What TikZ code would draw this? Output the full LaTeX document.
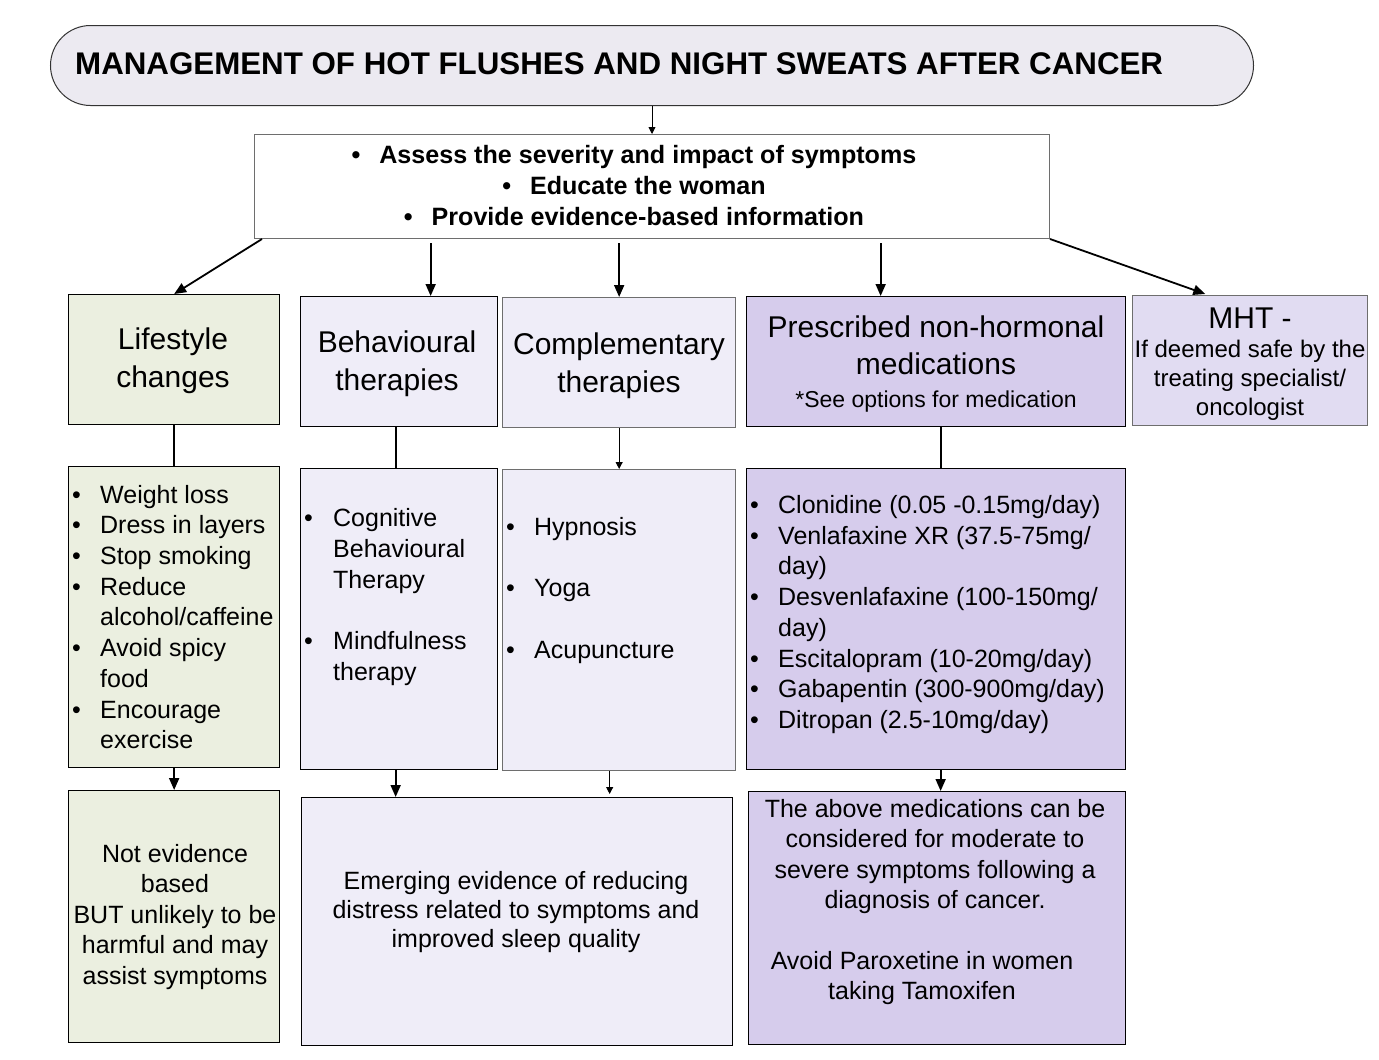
\documentclass[tikz,border=0pt]{standalone}
\usepackage{fontspec}
\setmainfont{Liberation Sans}
\usetikzlibrary{arrows.meta,calc}
\definecolor{titlefill}{RGB}{236,234,241}
\definecolor{greenfill}{RGB}{235,239,224}
\definecolor{lavfill}{RGB}{239,237,248}
\definecolor{purpfill}{RGB}{214,204,236}
\definecolor{mhtfill}{RGB}{225,220,242}
\definecolor{greyline}{RGB}{110,110,110}
\newcommand\bul{\makebox[28pt][l]{•}}
\newcommand\ind{\hspace*{28pt}}
\begin{document}
\begin{tikzpicture}[x=1pt,y=-1pt,
  box/.style={draw=black,line width=1.3pt,inner sep=0pt,anchor=north west},
  gbox/.style={box,draw=greyline},
  big/.style={inner sep=0pt,align=center,font=\fontsize{30}{38}\selectfont},
  mid/.style={inner sep=0pt,align=center,font=\fontsize{25}{30.5}\selectfont},
  lst/.style={inner sep=0pt,align=left,anchor=west,font=\fontsize{25}{30.7}\selectfont},
  arr/.style={line width=1.8pt,-{Triangle[length=12pt,width=10pt]}},
  tarr/.style={line width=0.9pt,-{Triangle[length=7pt,width=7pt]}},
  conn/.style={line width=1.8pt}]
\useasboundingbox (0,0) rectangle (1379,1060);

% title
\node[draw=black!80,line width=1pt,fill=titlefill,rounded corners=40pt,inner sep=0pt,
      minimum width=1203pt,minimum height=80pt,anchor=north west] (title) at (50,25) {};
\node[inner sep=0pt,anchor=west,font=\fontsize{31.3}{36}\selectfont\bfseries] (titletxt) at (75,64)
  {MANAGEMENT OF HOT FLUSHES AND NIGHT SWEATS AFTER CANCER};

% assess box
\node[gbox,fill=white,line width=1pt,minimum width=795pt,minimum height=104pt] (assess) at (254,134) {};
\node[inner sep=0pt,align=center,font=\fontsize{25.1}{31}\selectfont\bfseries] (assesstxt) at (634,186)
  {•\hspace{19pt}Assess the severity and impact of symptoms\\
   •\hspace{19pt}Educate the woman\\
   •\hspace{19pt}Provide evidence-based information};

% row 1
\node[box,fill=greenfill,minimum width=211pt,minimum height=130pt] (life) at (68,294) {};
\node[big] (lifetxt) at (173,361) {Lifestyle\\changes};
\node[box,fill=lavfill,minimum width=197pt,minimum height=130pt] (behav) at (300,296) {};
\node[big] (behavtxt) at (397,363.5) {Behavioural\\therapies};
\node[gbox,fill=lavfill,minimum width=233pt,minimum height=130pt] (comp) at (502,297) {};
\node[big] (comptxt) at (619,366) {Complementary\\therapies};
\node[box,fill=purpfill,minimum width=379pt,minimum height=130pt] (presc) at (746,296) {};
\node[inner sep=0pt,align=center,font=\fontsize{23}{33}\selectfont] (presctxt) at (936,364)
  {{\fontsize{30}{36}\selectfont Prescribed non-hormonal}\\[4pt]
   {\fontsize{30}{36}\selectfont medications}\\
   *See options for medication};
\node[gbox,fill=mhtfill,minimum width=235pt,minimum height=130pt] (mht) at (1132,295) {};
\node[inner sep=0pt,align=center,font=\fontsize{24}{29}\selectfont] (mhttxt) at (1250,364)
  {{\fontsize{30}{36}\selectfont MHT -}\\
   If deemed safe by the\\
   treating specialist/\\
   oncologist};

% row 2
\node[box,fill=greenfill,minimum width=211pt,minimum height=301pt] (lifel) at (68,466) {};
\node[lst] (lifeltxt) at (72,617)
  {\bul Weight loss\\ \bul Dress in layers\\ \bul Stop smoking\\ \bul Reduce\\
   \ind alcohol/caffeine\\ \bul Avoid spicy\\ \ind food\\ \bul Encourage\\ \ind exercise};
\node[box,fill=lavfill,minimum width=197pt,minimum height=301pt] (behavl) at (300,468) {};
\node[lst] (behavltxt) at (304,597)
  {\makebox[29pt][l]{•}Cognitive\\ \hspace*{29pt}Behavioural\\ \hspace*{29pt}Therapy\\[30.5pt]
   \makebox[29pt][l]{•}Mindfulness\\ \hspace*{29pt}therapy};
\node[gbox,fill=lavfill,minimum width=233pt,minimum height=301pt] (compl) at (502,469) {};
\node[lst] (compltxt) at (506,590.5)
  {\bul Hypnosis\\[30.7pt] \bul Yoga\\[30.7pt] \bul Acupuncture};
\node[box,fill=purpfill,minimum width=379pt,minimum height=301pt] (prescl) at (746,468) {};
\node[lst] (prescltxt) at (750,614.5)
  {\bul Clonidine (0.05 -0.15mg/day)\\ \bul Venlafaxine XR (37.5-75mg/\\ \ind day)\\
   \bul Desvenlafaxine (100-150mg/\\ \ind day)\\ \bul Escitalopram (10-20mg/day)\\
   \bul Gabapentin (300-900mg/day)\\ \bul Ditropan (2.5-10mg/day)};

% row 3
\node[box,fill=greenfill,minimum width=211pt,minimum height=252pt] (note) at (68,790) {};
\node[mid] (notetxt) at (175,917) {Not evidence\\based\\BUT unlikely to be\\harmful and may\\assist symptoms};
\node[box,fill=lavfill,minimum width=431pt,minimum height=248pt] (emerg) at (301,797) {};
\node[mid,font=\fontsize{25}{29}\selectfont] (emergtxt) at (516,912)
  {Emerging evidence of reducing\\distress related to symptoms and\\improved sleep quality};
\node[box,fill=purpfill,minimum width=377pt,minimum height=253pt] (avoid) at (748,791) {};
\node[mid,font=\fontsize{25}{30.4}\selectfont] (avoidtxt) at (935,902)
  {The above medications can be\\considered for moderate to\\severe symptoms following a\\diagnosis of cancer.\\[30.4pt]
   Avoid Paroxetine in women\rule{26pt}{0pt}\\taking Tamoxifen\rule{26pt}{0pt}};

% connectors
\draw[tarr] (title.south) -- (assess.north);
\draw[arr] ([xshift=8pt]assess.south west) -- (life.north);
\draw[arr,shorten <=4pt] ([xshift=31.5pt]behav.north |- assess.south) -- ([xshift=31.5pt]behav.north);
\draw[arr,shorten <=4pt] (comp.north |- assess.south) -- (comp.north);
\draw[arr,shorten <=4pt] ([xshift=-55.5pt]presc.north |- assess.south) -- ([xshift=-55.5pt]presc.north);
\draw[arr,shorten >=3pt] (assess.south east) -- ([xshift=-42pt]mht.north);

\draw[conn] (life.south) -- (lifel.north);
\draw[conn] ([xshift=-3.5pt]behav.south) -- ([xshift=-3.5pt]behav.south |- behavl.north);
\draw[tarr] (comp.south) -- (compl.north);
\draw[conn] ([xshift=4.5pt]presc.south) -- ([xshift=4.5pt]presc.south |- prescl.north);

\draw[arr] (lifel.south) -- (note.north);
\draw[arr] ([xshift=-3.5pt]behavl.south) -- ([xshift=-3.5pt]behavl.south |- emerg.north);
\draw[tarr,shorten >=3pt] ([xshift=-9.5pt]compl.south) -- ([xshift=-9.5pt]compl.south |- emerg.north);
\draw[arr] ([xshift=4.5pt]prescl.south) -- ([xshift=4.5pt]prescl.south |- avoid.north);
\end{tikzpicture}
\end{document}
